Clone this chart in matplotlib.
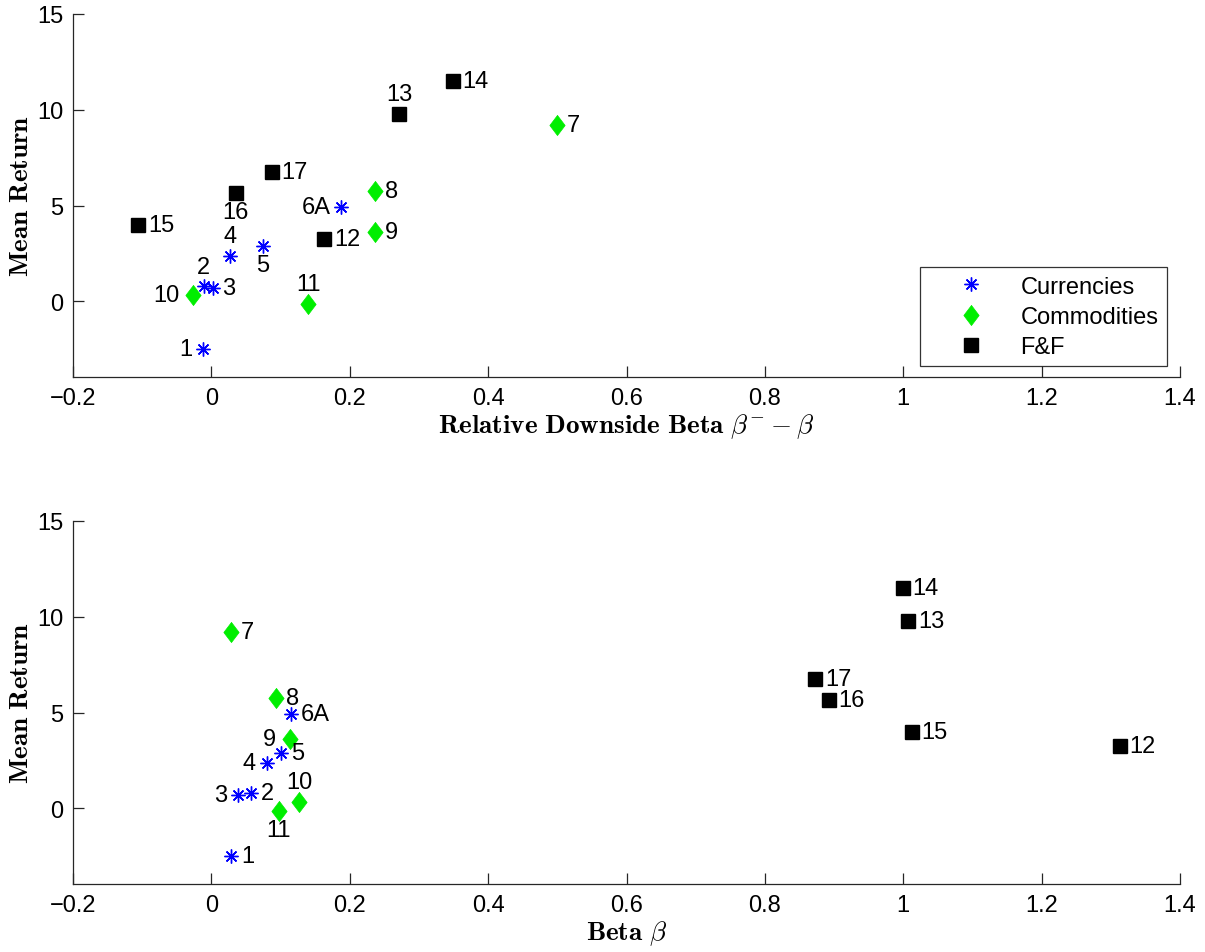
import matplotlib
matplotlib.use("Agg")
import matplotlib.pyplot as plt

plt.rcParams['font.family'] = ['Liberation Sans', 'DejaVu Sans']
plt.rcParams['mathtext.fontset'] = 'cm'

# Currencies
cur_labels = ['1', '2', '3', '4', '5', '6A']
cur_rel_beta = [-0.012, -0.011, 0.002, 0.027, 0.074, 0.188]
cur_beta = [0.029, 0.057, 0.039, 0.080, 0.101, 0.115]
cur_ret = [-2.48, 0.80, 0.71, 2.37, 2.89, 4.92]

# Commodities
com_labels = ['7', '8', '9', '10', '11']
com_rel_beta = [0.500, 0.237, 0.237, -0.026, 0.140]
com_beta = [0.029, 0.094, 0.114, 0.127, 0.097]
com_ret = [9.19, 5.74, 3.64, 0.34, -0.13]

# Fama & French portfolios
ff_labels = ['12', '13', '14', '15', '16', '17']
ff_rel_beta = [0.163, 0.271, 0.349, -0.106, 0.035, 0.087]
ff_beta = [1.313, 1.007, 0.999, 1.012, 0.892, 0.873]
ff_ret = [3.23, 9.79, 11.51, 3.97, 5.66, 6.77]

x_ticks = [-0.2, 0, 0.2, 0.4, 0.6, 0.8, 1, 1.2, 1.4]
x_ticklabels = ['\u22120.2', '0', '0.2', '0.4', '0.6', '0.8', '1', '1.2', '1.4']
y_ticks = [0, 5, 10, 15]

# where the number goes relative to its marker
top_side = {'1': 'l', '2': 't', '3': 'r', '4': 't', '5': 'b', '6A': 'l',
            '7': 'r', '8': 'r', '9': 'r', '10': 'l', '11': 't',
            '12': 'r', '13': 't', '14': 'r', '15': 'r', '16': 'b', '17': 'r'}
bottom_side = {'1': 'r', '2': 'r', '3': 'l', '4': 'l', '5': 'r', '6A': 'r',
               '7': 'r', '8': 'r', '9': 'l', '10': 't', '11': 'b',
               '12': 'r', '13': 'r', '14': 'r', '15': 'r', '16': 'r', '17': 'r'}

GREEN = '#00ee00'
FS = 17
LABEL_FS = 19.5
DIAMOND = [(0, 1), (0.76, 0), (0, -1), (-0.76, 0), (0, 1)]


def label_points(ax, xs, ys, labels, sides, wide=False):
    for x, y, lab in zip(xs, ys, labels):
        s = sides[lab]
        if s == 'r':
            off, ha = (7, 0), 'left'
        elif s == 'l':
            off, ha = ((-10 if wide else -8), 0), 'right'
        elif s == 't':
            off, ha = (0, 14), 'center'
        else:
            off, ha = (0, -14), 'center'
        ax.annotate(lab, (x, y), xytext=off, textcoords='offset points',
                    ha=ha, va='center', fontsize=FS)


def draw_panel(ax, xc, xm, xf, sides):
    ax.plot(xc, cur_ret, linestyle='none', marker=(8, 2, 0), ms=10,
            mew=1.0, color='#0000ff', label='Currencies')
    ax.plot(xm, com_ret, linestyle='none', marker=DIAMOND, ms=14.5,
            color=GREEN, mec=GREEN, mew=0.5, label='Commodities')
    ax.plot(xf, ff_ret, linestyle='none', marker='s', ms=9.5,
            color='k', label='F&F')
    label_points(ax, xc, cur_ret, cur_labels, sides)
    label_points(ax, xm, com_ret, com_labels, sides, wide=True)
    label_points(ax, xf, ff_ret, ff_labels, sides)

    ax.set_xlim(-0.2, 1.4)
    ax.set_ylim(-3.95, 15)
    ax.set_xticks(x_ticks)
    ax.set_xticklabels(x_ticklabels)
    ax.set_yticks(y_ticks)
    for sp in ['top', 'right']:
        ax.spines[sp].set_visible(False)
    for sp in ['left', 'bottom']:
        ax.spines[sp].set_linewidth(0.9)
        ax.spines[sp].set_color('#262626')
    ax.tick_params(direction='in', length=8, width=0.9, color='#262626',
                   labelsize=FS, pad=7)
    ax.set_ylabel(r'$\mathbf{Mean\ Return}$', fontsize=LABEL_FS, labelpad=2)


fig = plt.figure(figsize=(12.05, 9.53), dpi=100)
ax1 = fig.add_axes([0.0606, 0.6034, 0.9187, 0.3809])
ax2 = fig.add_axes([0.0606, 0.0714, 0.9187, 0.3809])

draw_panel(ax1, cur_rel_beta, com_rel_beta, ff_rel_beta, top_side)
ax1.set_xlabel(r'$\mathbf{Relative\ Downside\ Beta}\ \beta^{-}-\beta$', fontsize=LABEL_FS, labelpad=2)
leg = ax1.legend(loc='lower right', bbox_to_anchor=(0.988, 0.03), borderaxespad=0,
                 fancybox=False, edgecolor='k', fontsize=FS, numpoints=1,
                 handlelength=3.6, handletextpad=0.3, borderpad=0.35, labelspacing=0.34)
leg.get_frame().set_linewidth(0.9)

draw_panel(ax2, cur_beta, com_beta, ff_beta, bottom_side)
ax2.set_xlabel(r'$\mathbf{Beta}\ \beta$', fontsize=LABEL_FS, labelpad=2)

fig.savefig('out.png', dpi=100)
